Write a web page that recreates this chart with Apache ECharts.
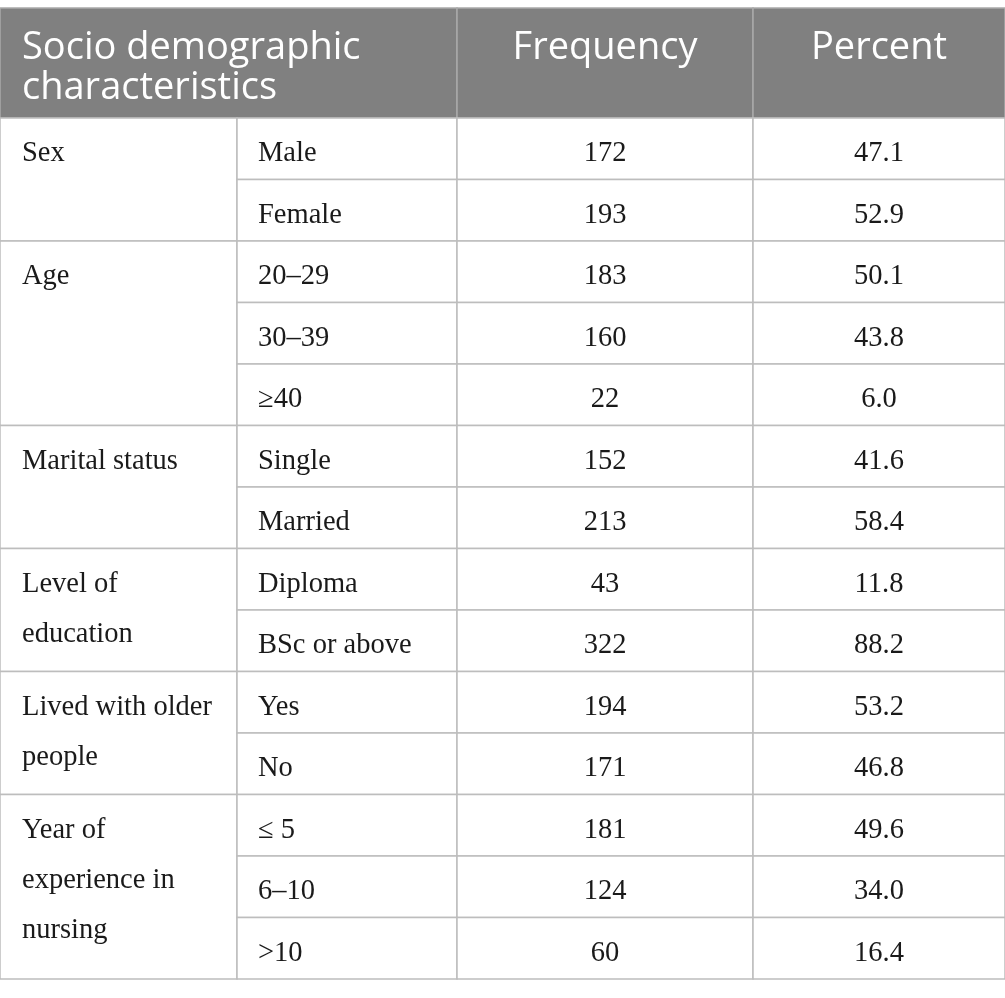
<!DOCTYPE html>
<html>
<head>
<meta charset="utf-8">
<script src="https://cdn.jsdelivr.net/npm/echarts@6/dist/echarts.min.js"></script>
<style>
html,body{margin:0;padding:0;background:#fff;}
#chart{width:1005px;height:998px;}
</style>
</head>
<body>
<div id="chart"></div>
<script>
// ---- data ----
const headers = ['Socio demographic\ncharacteristics', 'Frequency', 'Percent'];
const groups = ['Sex', 'Age', 'Marital status', 'Level of\neducation', 'Lived with older\npeople', 'Year of\nexperience in\nnursing'];
const groupSizes = [2, 3, 2, 2, 2, 3];
const categories = ['Male', 'Female', '20–29', '30–39', '≥40', 'Single', 'Married', 'Diploma', 'BSc or above', 'Yes', 'No', '≤ 5', '6–10', '>10'];
const frequency = [172, 193, 183, 160, 22, 152, 213, 43, 322, 194, 171, 181, 124, 60];
const percent = [47.1, 52.9, 50.1, 43.8, 6.0, 41.6, 58.4, 11.8, 88.2, 53.2, 46.8, 49.6, 34.0, 16.4];

// ---- layout (table units = px) ----
const colEdges = [0, 237, 457, 753, 1005];
const headerH = 110;
const rowH = 61.5;
const totalH = headerH + rowH * categories.length;

// cells: [x0, x1, y0, y1], plus text/kind lookup
const cells = [];
const meta = [];
function addCell(x0, x1, y0, y1, text, kind) {
  cells.push([x0, x1, y0, y1]);
  meta.push({ text: text, kind: kind });
}
addCell(colEdges[0], colEdges[2], 0, headerH, headers[0], 'headLeft');
addCell(colEdges[2], colEdges[3], 0, headerH, headers[1], 'headCenter');
addCell(colEdges[3], colEdges[4], 0, headerH, headers[2], 'headCenter');
let r = 0;
groups.forEach(function (g, gi) {
  const y0 = headerH + r * rowH;
  const y1 = y0 + groupSizes[gi] * rowH;
  addCell(colEdges[0], colEdges[1], y0, y1, g, 'group');
  r += groupSizes[gi];
});
categories.forEach(function (c, i) {
  const y0 = headerH + i * rowH, y1 = y0 + rowH;
  addCell(colEdges[1], colEdges[2], y0, y1, c, 'left');
  addCell(colEdges[2], colEdges[3], y0, y1, String(frequency[i]), 'center');
  addCell(colEdges[3], colEdges[4], y0, y1, percent[i].toFixed(1), 'center');
});

const chart = echarts.init(document.getElementById('chart'), null, { renderer: 'canvas' });
const serif = '28.5px "Liberation Serif", "DejaVu Serif", serif';
const sans = '38px "Open Sans", "Noto Sans", sans-serif';
const lineCol = '#bdbdbd';
const textCol = '#1a1a1a';

chart.setOption({
  backgroundColor: '#ffffff',
  animation: false,
  grid: { left: 0, right: 0, top: 8, bottom: 19 },
  xAxis: { type: 'value', min: 0, max: colEdges[colEdges.length - 1], show: false },
  yAxis: { type: 'value', min: 0, max: totalH, inverse: true, show: false },
  series: [{
    type: 'custom',
    coordinateSystem: 'cartesian2d',
    data: cells,
    encode: { x: [0, 1], y: [2, 3] },
    clip: false,
    renderItem: function (params, api) {
      const m = meta[params.dataIndex];
      const p0 = api.coord([api.value(0), api.value(2)]);
      const p1 = api.coord([api.value(1), api.value(3)]);
      const x = p0[0], y = p0[1], w = p1[0] - p0[0], h = p1[1] - p0[1];
      const isHead = m.kind.indexOf('head') === 0;
      const children = [{
        type: 'rect',
        shape: { x: x, y: y, width: w, height: h },
        style: { fill: isHead ? '#808080' : '#ffffff', stroke: isHead ? '#a9a9a9' : lineCol, lineWidth: 1.5 }
      }];
      let ts;
      if (m.kind === 'headLeft') {
        ts = { text: m.text, x: x + 22, y: y + 20, font: sans, fill: '#ffffff', align: 'left', verticalAlign: 'top', lineHeight: 40 };
      } else if (m.kind === 'headCenter') {
        ts = { text: m.text, x: x + w / 2, y: y + 20, font: sans, fill: '#ffffff', align: 'center', verticalAlign: 'top', lineHeight: 40 };
      } else if (m.kind === 'group') {
        ts = { text: m.text, x: x + 22, y: y + rowH / 2 - 25 + 5, font: serif, fill: textCol, align: 'left', verticalAlign: 'top', lineHeight: 50 };
      } else if (m.kind === 'left') {
        ts = { text: m.text, x: x + 21, y: y + h / 2 + 5, font: serif, fill: textCol, align: 'left', verticalAlign: 'middle' };
      } else {
        ts = { text: m.text, x: x + w / 2, y: y + h / 2 + 5, font: serif, fill: textCol, align: 'center', verticalAlign: 'middle' };
      }
      children.push({ type: 'text', style: ts, silent: true });
      return { type: 'group', children: children };
    }
  }]
});
</script>
</body>
</html>
